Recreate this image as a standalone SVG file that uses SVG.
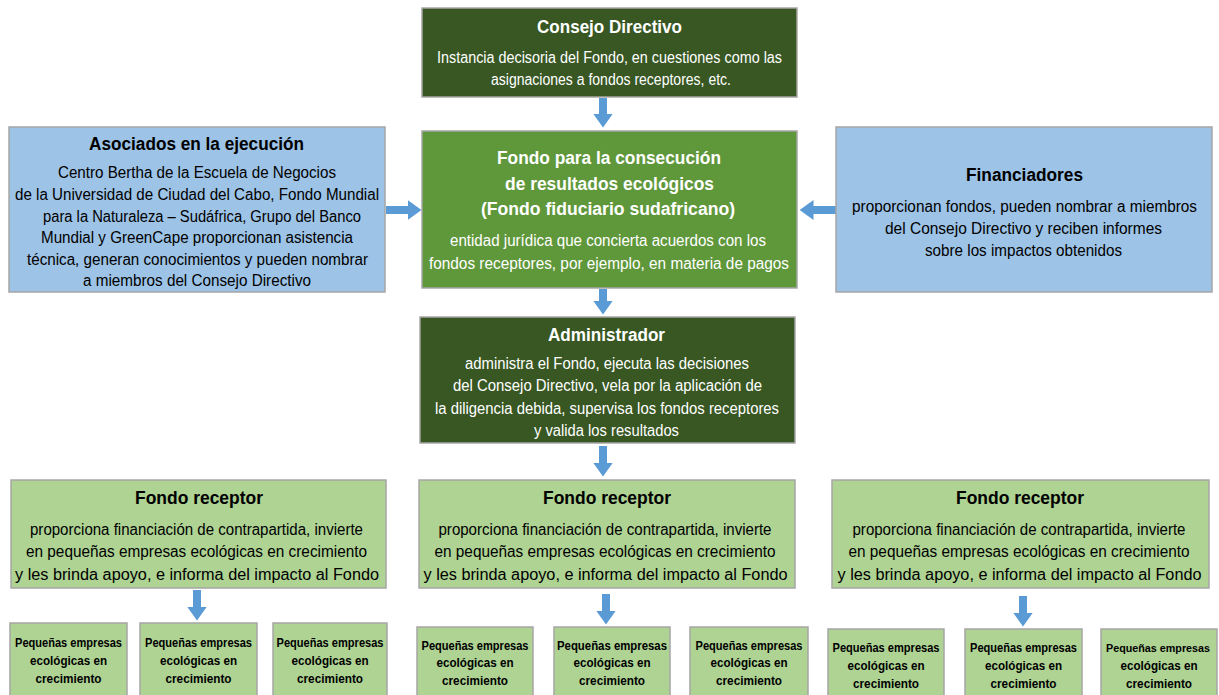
<svg xmlns="http://www.w3.org/2000/svg" width="1219" height="695" viewBox="0 0 1219 695">
<defs>
<marker id="ah" viewBox="0 0 14 20" markerWidth="14" markerHeight="20" refX="0.5" refY="10" orient="auto" markerUnits="userSpaceOnUse">
<path d="M0,0 L14,10 L0,20 z" fill="#5b9bd5"/>
</marker>
<style>
.box{stroke:#a6a6a6;stroke-width:1.5}
.dk{fill:#385723}
.md{fill:#5f973b}
.bl{fill:#9dc3e6}
.lg{fill:#aed393}
text{font-family:"Liberation Sans",Arial,sans-serif;text-anchor:middle}
.w{fill:#ffffff}
.k{fill:#000000}
.t{font-size:18px;font-weight:bold}
.b{font-size:16px}
.s{font-size:12.5px;font-weight:bold}
.con line{stroke:#5b9bd5;stroke-width:8;marker-end:url(#ah)}
</style>
</defs>
<rect width="1219" height="695" fill="#ffffff"/>

<g class="con">
<line x1="603" y1="98" x2="603" y2="114"/>
<line x1="603" y1="289" x2="603" y2="301"/>
<line x1="603" y1="446" x2="603" y2="463"/>
<line x1="386" y1="210" x2="408" y2="210"/>
<line x1="836" y1="210" x2="813" y2="210"/>
<line x1="197" y1="590" x2="197" y2="607"/>
<line x1="606" y1="594" x2="606" y2="611"/>
<line x1="1023" y1="596" x2="1023" y2="613"/>
</g>

<g id="consejo">
<rect class="box dk" x="422" y="8" width="375" height="89"/>
<text class="w t" x="609.5" y="33" textLength="145" lengthAdjust="spacingAndGlyphs">Consejo Directivo</text>
<text class="w b" x="609.5" y="63" textLength="345" lengthAdjust="spacingAndGlyphs">Instancia decisoria del Fondo, en cuestiones como las</text>
<text class="w b" x="611" y="85" textLength="240" lengthAdjust="spacingAndGlyphs">asignaciones a fondos receptores, etc.</text>
</g>

<g id="fondo">
<rect class="box md" x="422" y="131" width="375" height="157"/>
<text class="w t" x="609" y="164" textLength="224" lengthAdjust="spacingAndGlyphs">Fondo para la consecución</text>
<text class="w t" x="609.5" y="190" textLength="209" lengthAdjust="spacingAndGlyphs">de resultados ecológicos</text>
<text class="w t" x="608" y="215" textLength="254" lengthAdjust="spacingAndGlyphs">(Fondo fiduciario sudafricano)</text>
<text class="w b" x="608" y="246" textLength="316" lengthAdjust="spacingAndGlyphs">entidad jurídica que concierta acuerdos con los</text>
<text class="w b" x="609" y="269" textLength="360" lengthAdjust="spacingAndGlyphs">fondos receptores, por ejemplo, en materia de pagos</text>
</g>

<g id="asociados">
<rect class="box bl" x="9" y="127" width="376" height="165"/>
<text class="k t" x="196.5" y="150" textLength="215" lengthAdjust="spacingAndGlyphs">Asociados en la ejecución</text>
<text class="k b" x="197" y="178" textLength="278" lengthAdjust="spacingAndGlyphs">Centro Bertha de la Escuela de Negocios</text>
<text class="k b" x="197" y="200" textLength="364" lengthAdjust="spacingAndGlyphs">de la Universidad de Ciudad del Cabo, Fondo Mundial</text>
<text class="k b" x="202" y="222" textLength="318" lengthAdjust="spacingAndGlyphs">para la Naturaleza – Sudáfrica, Grupo del Banco</text>
<text class="k b" x="197" y="243" textLength="312" lengthAdjust="spacingAndGlyphs">Mundial y GreenCape proporcionan asistencia</text>
<text class="k b" x="197.5" y="265" textLength="341" lengthAdjust="spacingAndGlyphs">técnica, generan conocimientos y pueden nombrar</text>
<text class="k b" x="197" y="286" textLength="228" lengthAdjust="spacingAndGlyphs">a miembros del Consejo Directivo</text>
</g>

<g id="financiadores">
<rect class="box bl" x="836" y="127" width="376" height="165"/>
<text class="k t" x="1024.5" y="181" textLength="117" lengthAdjust="spacingAndGlyphs">Financiadores</text>
<text class="k b" x="1024.5" y="212" textLength="345" lengthAdjust="spacingAndGlyphs">proporcionan fondos, pueden nombrar a miembros</text>
<text class="k b" x="1023.5" y="234" textLength="277" lengthAdjust="spacingAndGlyphs">del Consejo Directivo y reciben informes</text>
<text class="k b" x="1023.5" y="256" textLength="197" lengthAdjust="spacingAndGlyphs">sobre los impactos obtenidos</text>
</g>

<g id="administrador">
<rect class="box dk" x="420" y="317" width="375" height="126"/>
<text class="w t" x="606.5" y="341" textLength="117" lengthAdjust="spacingAndGlyphs">Administrador</text>
<text class="w b" x="607" y="369" textLength="284" lengthAdjust="spacingAndGlyphs">administra el Fondo, ejecuta las decisiones</text>
<text class="w b" x="607.5" y="391" textLength="309" lengthAdjust="spacingAndGlyphs">del Consejo Directivo, vela por la aplicación de</text>
<text class="w b" x="607" y="414" textLength="344" lengthAdjust="spacingAndGlyphs">la diligencia debida, supervisa los fondos receptores</text>
<text class="w b" x="606.5" y="436" textLength="145" lengthAdjust="spacingAndGlyphs">y valida los resultados</text>
</g>

<g id="receptor1">
<rect class="box lg" x="11" y="480" width="375" height="108"/>
<text class="k t" x="199" y="504" textLength="128" lengthAdjust="spacingAndGlyphs">Fondo receptor</text>
<text class="k b" x="196.5" y="535" textLength="333" lengthAdjust="spacingAndGlyphs">proporciona financiación de contrapartida, invierte</text>
<text class="k b" x="196.5" y="557" textLength="341" lengthAdjust="spacingAndGlyphs">en pequeñas empresas ecológicas en crecimiento</text>
<text class="k b" x="197" y="580" textLength="364" lengthAdjust="spacingAndGlyphs">y les brinda apoyo, e informa del impacto al Fondo</text>
</g>

<g id="receptor2">
<rect class="box lg" x="419" y="480" width="376" height="108"/>
<text class="k t" x="607" y="504" textLength="128" lengthAdjust="spacingAndGlyphs">Fondo receptor</text>
<text class="k b" x="605" y="535" textLength="333" lengthAdjust="spacingAndGlyphs">proporciona financiación de contrapartida, invierte</text>
<text class="k b" x="605" y="557" textLength="341" lengthAdjust="spacingAndGlyphs">en pequeñas empresas ecológicas en crecimiento</text>
<text class="k b" x="605.5" y="580" textLength="364" lengthAdjust="spacingAndGlyphs">y les brinda apoyo, e informa del impacto al Fondo</text>
</g>

<g id="receptor3">
<rect class="box lg" x="832" y="480" width="377" height="108"/>
<text class="k t" x="1020" y="504" textLength="128" lengthAdjust="spacingAndGlyphs">Fondo receptor</text>
<text class="k b" x="1019" y="535" textLength="333" lengthAdjust="spacingAndGlyphs">proporciona financiación de contrapartida, invierte</text>
<text class="k b" x="1019" y="557" textLength="341" lengthAdjust="spacingAndGlyphs">en pequeñas empresas ecológicas en crecimiento</text>
<text class="k b" x="1019.5" y="580" textLength="364" lengthAdjust="spacingAndGlyphs">y les brinda apoyo, e informa del impacto al Fondo</text>
</g>

<g id="pyme1">
<rect class="box lg" x="10" y="623" width="117" height="80"/>
<text class="k s" x="68.5" y="647" textLength="107" lengthAdjust="spacingAndGlyphs">Pequeñas empresas</text>
<text class="k s" x="68.5" y="665" textLength="77" lengthAdjust="spacingAndGlyphs">ecológicas en</text>
<text class="k s" x="68.5" y="683" textLength="66" lengthAdjust="spacingAndGlyphs">crecimiento</text>
</g>
<g id="pyme2">
<rect class="box lg" x="140" y="623" width="117" height="80"/>
<text class="k s" x="198.5" y="647" textLength="107" lengthAdjust="spacingAndGlyphs">Pequeñas empresas</text>
<text class="k s" x="198.5" y="665" textLength="77" lengthAdjust="spacingAndGlyphs">ecológicas en</text>
<text class="k s" x="198.5" y="683" textLength="66" lengthAdjust="spacingAndGlyphs">crecimiento</text>
</g>
<g id="pyme3">
<rect class="box lg" x="273" y="623" width="114" height="80"/>
<text class="k s" x="330" y="647" textLength="107" lengthAdjust="spacingAndGlyphs">Pequeñas empresas</text>
<text class="k s" x="330" y="665" textLength="77" lengthAdjust="spacingAndGlyphs">ecológicas en</text>
<text class="k s" x="330" y="683" textLength="66" lengthAdjust="spacingAndGlyphs">crecimiento</text>
</g>
<g id="pyme4">
<rect class="box lg" x="417" y="627" width="116" height="80"/>
<text class="k s" x="475" y="650" textLength="107" lengthAdjust="spacingAndGlyphs">Pequeñas empresas</text>
<text class="k s" x="475" y="667" textLength="77" lengthAdjust="spacingAndGlyphs">ecológicas en</text>
<text class="k s" x="475" y="685" textLength="66" lengthAdjust="spacingAndGlyphs">crecimiento</text>
</g>
<g id="pyme5">
<rect class="box lg" x="554" y="627" width="116" height="80"/>
<text class="k s" x="612" y="650" textLength="110" lengthAdjust="spacingAndGlyphs">Pequeñas empresas</text>
<text class="k s" x="612" y="667" textLength="77" lengthAdjust="spacingAndGlyphs">ecológicas en</text>
<text class="k s" x="612" y="685" textLength="66" lengthAdjust="spacingAndGlyphs">crecimiento</text>
</g>
<g id="pyme6">
<rect class="box lg" x="690" y="627" width="118" height="80"/>
<text class="k s" x="749" y="650" textLength="107" lengthAdjust="spacingAndGlyphs">Pequeñas empresas</text>
<text class="k s" x="749" y="667" textLength="77" lengthAdjust="spacingAndGlyphs">ecológicas en</text>
<text class="k s" x="749" y="685" textLength="66" lengthAdjust="spacingAndGlyphs">crecimiento</text>
</g>
<g id="pyme7">
<rect class="box lg" x="828" y="629" width="116" height="80"/>
<text class="k s" x="886" y="652" textLength="107" lengthAdjust="spacingAndGlyphs">Pequeñas empresas</text>
<text class="k s" x="886" y="670" textLength="77" lengthAdjust="spacingAndGlyphs">ecológicas en</text>
<text class="k s" x="886" y="688" textLength="66" lengthAdjust="spacingAndGlyphs">crecimiento</text>
</g>
<g id="pyme8">
<rect class="box lg" x="965" y="629" width="117" height="80"/>
<text class="k s" x="1023.5" y="652" textLength="107" lengthAdjust="spacingAndGlyphs">Pequeñas empresas</text>
<text class="k s" x="1023.5" y="670" textLength="77" lengthAdjust="spacingAndGlyphs">ecológicas en</text>
<text class="k s" x="1023.5" y="688" textLength="66" lengthAdjust="spacingAndGlyphs">crecimiento</text>
</g>
<g id="pyme9">
<rect class="box lg" x="1101" y="629" width="116" height="80"/>
<text class="k s" x="1158" y="652" textLength="104" lengthAdjust="spacingAndGlyphs" style="font-size:11.5px">Pequeñas empresas</text>
<text class="k s" x="1159" y="670" textLength="77" lengthAdjust="spacingAndGlyphs">ecológicas en</text>
<text class="k s" x="1159" y="688" textLength="66" lengthAdjust="spacingAndGlyphs">crecimiento</text>
</g>
</svg>
